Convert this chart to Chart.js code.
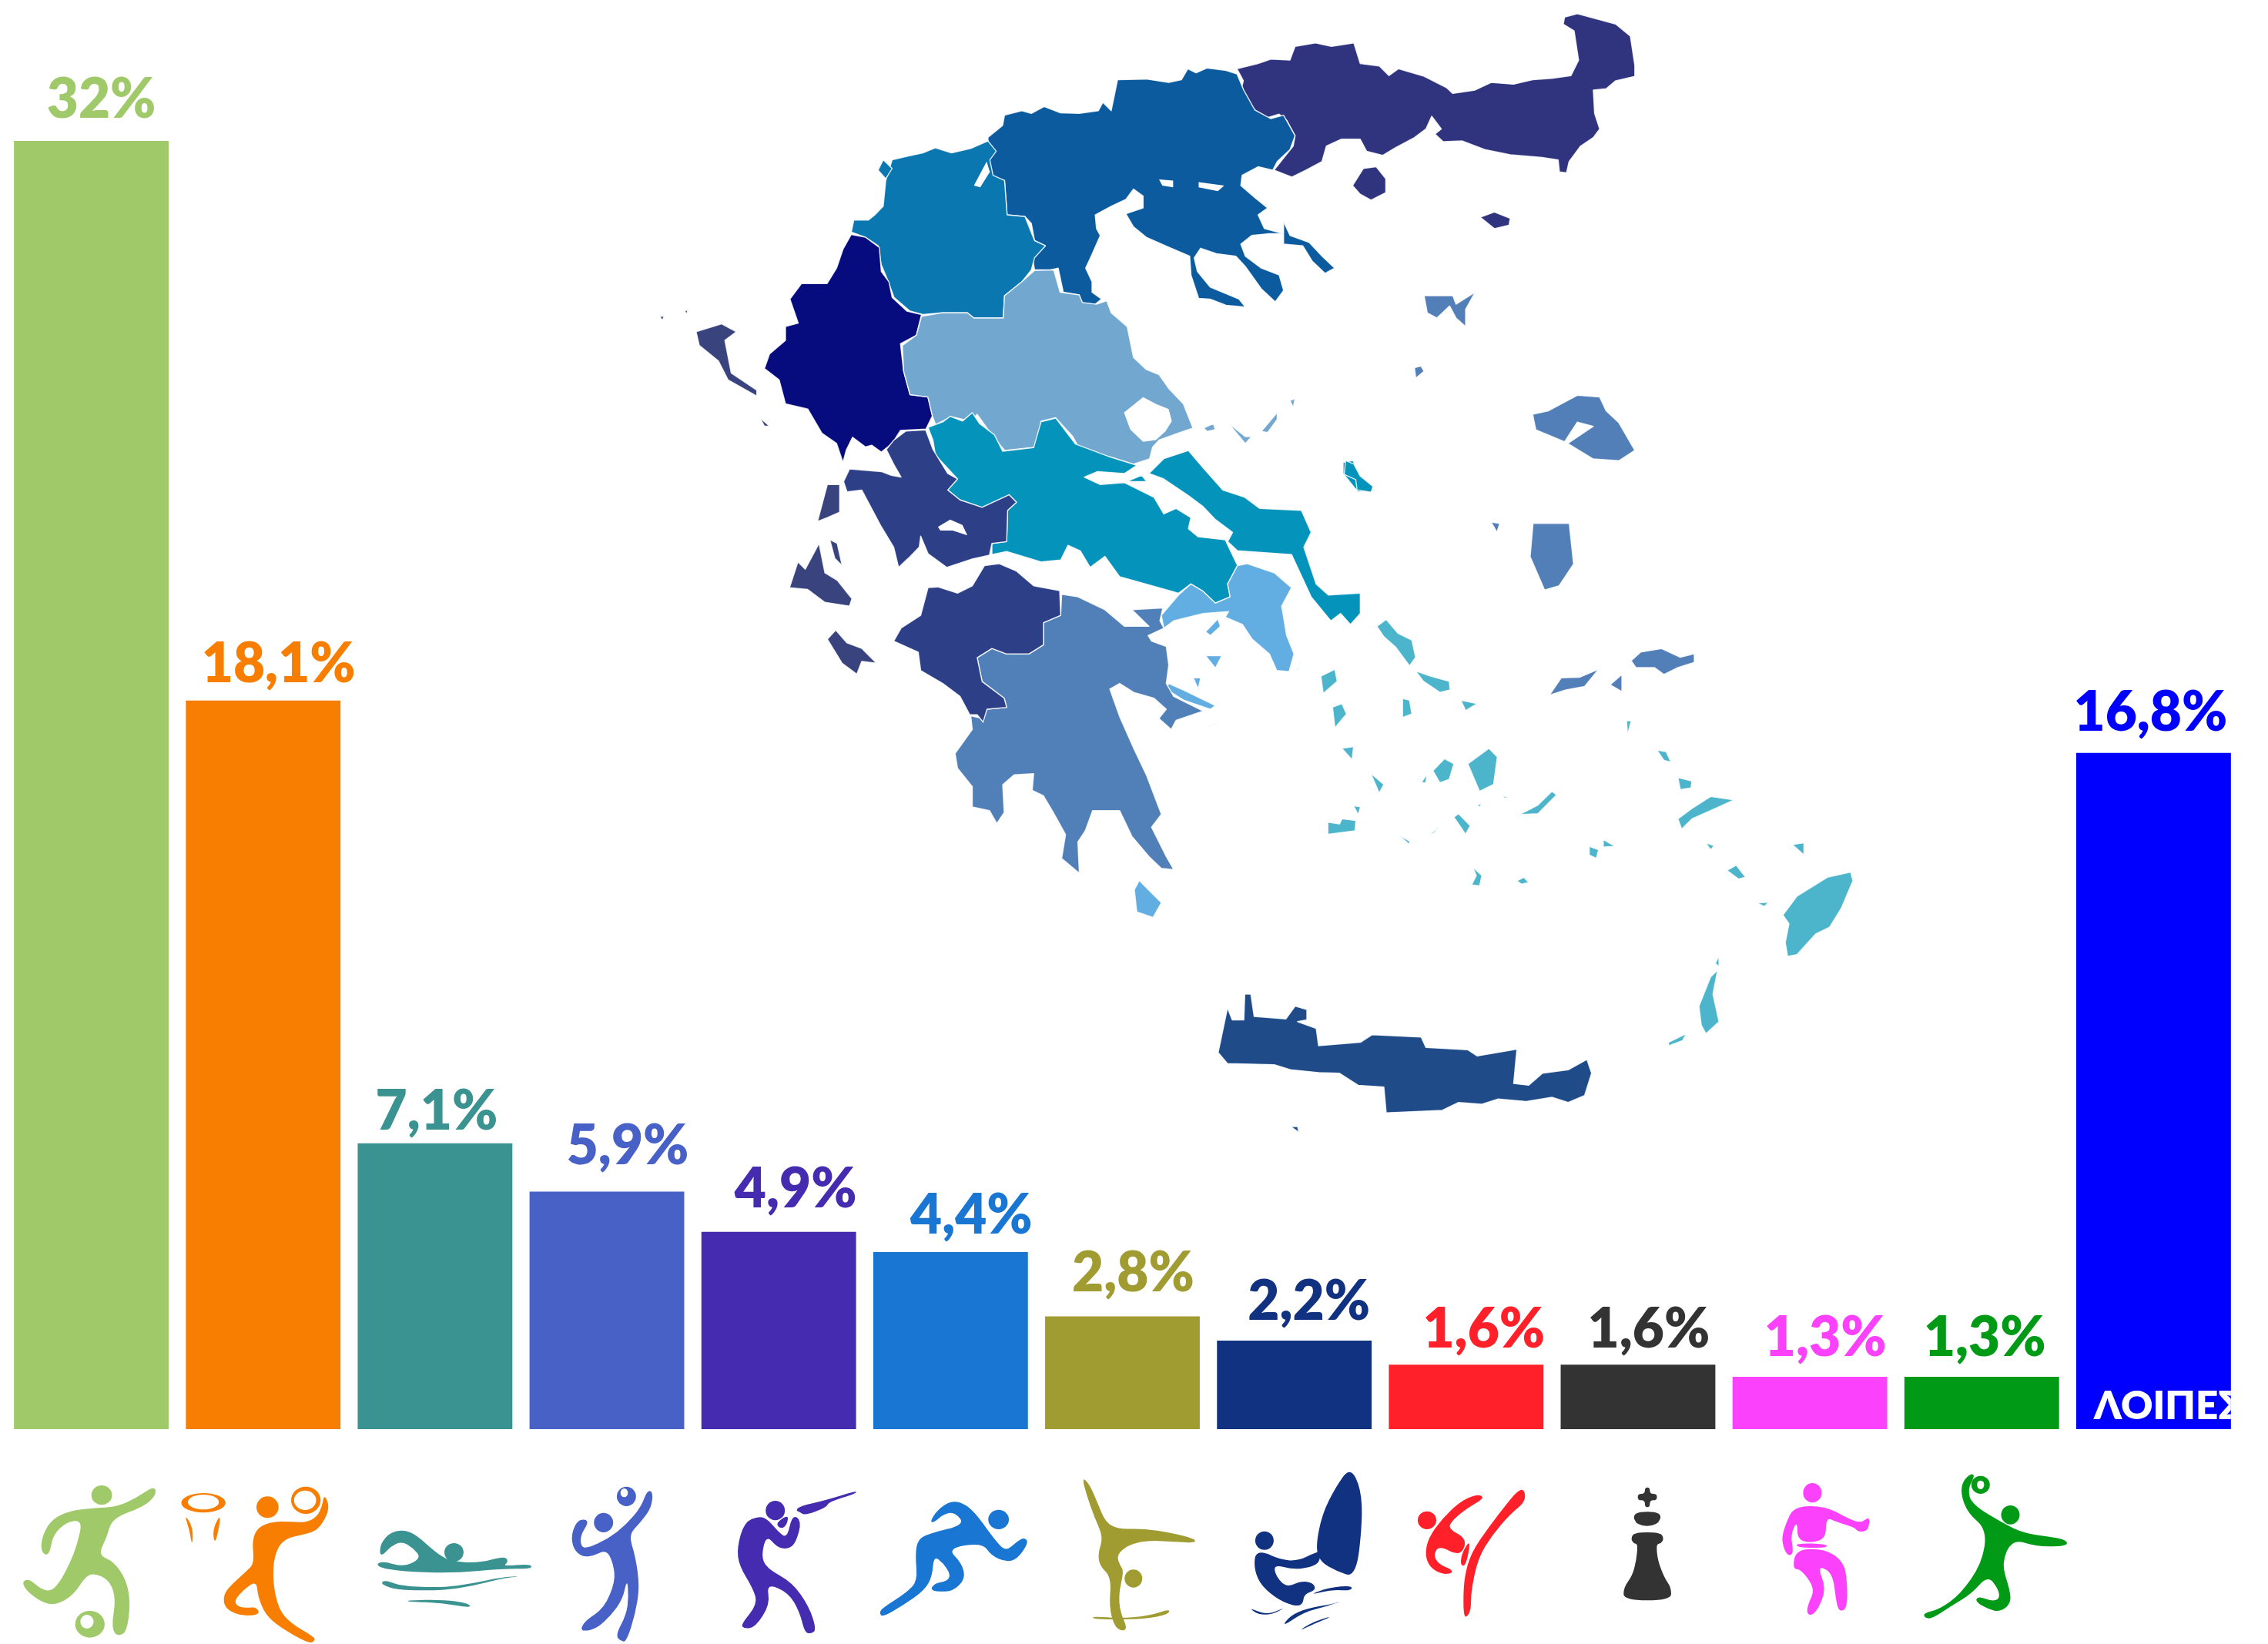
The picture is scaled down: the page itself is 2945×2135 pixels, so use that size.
<!DOCTYPE html>
<html><head><meta charset="utf-8">
<style>html,body{margin:0;padding:0;background:#fff}canvas{display:block}</style>
<script src="https://cdn.jsdelivr.net/npm/chart.js@4"></script></head>
<body><canvas id="c" width="2945" height="2135"></canvas>
<script>
const categories=["Ποδόσφαιρο","Μπάσκετ","Κολύμβηση","Βόλεϊ","Σκοποβολή","Στίβος","Ενόργανη","Ιστιοπλοΐα","Τάε Κβον Ντο","Σκάκι","Χορός","Χάντμπολ","ΛΟΙΠΕΣ"];
const shares=[32,18.1,7.1,5.9,4.9,4.4,2.8,2.2,1.6,1.6,1.3,1.3,16.8];
const barColors=["#A0CA6A","#F77E00","#3A9390","#4861C7","#452BB0","#1A76D3","#A09C32","#113280","#FF2029","#333333","#FB41FB","#009A16","#0000FF"];
const labelDx=[13,20,2,27,22,27,14,19,23,14,20,4,-4];
const labelGap=[30,24,18,36,32,24,33,27,22,22,27,27,29];

const tf={
 a:(x,y)=>[850+x/1.206,y/2.24],
 b:(x,y)=>[950+x/1.568,500+y/2.09],
 c:(x,y)=>[1500+x/1.65,800+y/2.24],
 o:(x,y)=>[x*1.878,y*1.878],
 i:(x,y)=>[x/1.045,1700+y/3],
 j:(x,y)=>[1500+x/1.0851,1700+y/3]
};
const mapParts=[
["#30347F","a",["912,200 945,185 965,172 995,175 1003,135 1035,125 1060,135 1095,125 1105,185 1135,192 1150,220 1165,200 1205,222 1240,255 1250,272 1285,262 1310,240 1345,245 1375,232 1405,228 1435,220 1447,175 1440,90 1423,70 1425,50 1445,40 1475,55 1505,70 1528,105 1535,190 1535,222 1505,235 1490,258 1470,262 1472,330 1480,375 1470,400 1450,425 1432,470 1428,503 1417,500 1415,465 1390,458 1340,450 1300,435 1265,410 1235,412 1222,390 1232,375 1217,338 1208,375 1190,400 1160,430 1140,452 1115,440 1105,405 1075,405 1052,425 1045,470 1020,495 998,515 970,495 985,460 1000,425 1003,395 990,350 978,332 960,342 940,320 925,285 920,250 922,235",
"1093,540 1110,490 1130,485 1145,520 1145,560 1122,582 1105,565","1293,632 1315,617 1340,635 1338,655 1315,665"]],
["#0C5B9E","a",["522,400 545,365 548,335 575,322 590,330 610,310 635,328 665,330 695,322 702,298 715,322 725,232 770,230 805,240 825,232 835,200 848,212 865,198 895,205 912,215 922,260 940,320 965,345 985,335 1003,395 995,435 975,470 968,495 945,485 920,510 918,540 940,575 960,605 945,625 955,665 985,680 985,645 995,685 1025,705 1045,745 1065,780 1050,795 1030,760 1015,715 985,710 985,680 960,680 935,685 918,710 925,745 950,780 978,800 985,845 972,878 950,840 925,775 910,745 880,738 855,722 845,750 850,790 870,835 915,870 925,893 895,888 870,870 852,868 840,800 838,745 800,715 770,690 750,660 738,622 765,605 765,570 750,550 738,580 715,600 690,625 692,665 698,685 685,740 675,780 685,820 685,850 700,870 690,885 668,880 665,858 640,850 632,780 620,785 595,785 592,750 612,715 595,700 590,650 580,630 552,625 548,525 525,510"]],
["#0A77B1","a",["308,675 312,640 335,640 345,625 358,600 362,525 372,465 395,455 420,445 440,430 465,445 495,432 522,410 535,440 525,465 530,510 548,525 552,625 580,630 595,700 612,715 595,750 590,785 575,820 548,860 546,925 500,925 490,910 450,910 420,915 400,905 375,865 365,815 355,770 350,715 330,690",
"358,465 372,490 362,520 350,495"]],
["#060C7E","a",["308,682 330,690 352,720 355,790 367,820 372,865 395,905 418,915 410,975 385,1000 390,1080 400,1148 428,1155 435,1210 425,1248 385,1252 372,1290 355,1315 340,1295 330,1300 310,1272 300,1310 295,1345 285,1290 262,1260 240,1190 205,1175 195,1105 172,1072 180,1030 205,990 205,950 225,940 212,870 230,825 270,825 285,780 295,725"]],
["#72A7D0","a",["418,920 450,910 490,910 500,925 546,925 548,860 575,820 595,787 625,785 635,850 665,858 670,880 692,885 708,875 715,910 740,950 750,1040 770,1075 790,1090 805,1130 828,1175 843,1245 820,1260 790,1280 780,1300 775,1335 750,1350 715,1330 665,1305 655,1270 628,1215 605,1225 600,1300 548,1310 530,1270 505,1205 495,1225 465,1212 440,1235 435,1210 428,1155 400,1148 390,1080 388,1005 410,975",
"860,1245 875,1232 878,1250 865,1255","898,1230 925,1270 935,1270 925,1290","950,1255 975,1200 975,1220 960,1258","995,1165 1003,1160 1000,1185"]],
["#FFFFFF","a",["735,1200 765,1155 785,1175 805,1190 810,1225 800,1255 785,1280 765,1285 745,1250","520,470 525,500 510,545 500,540","790,522 812,525 812,545 795,540","852,530 892,540 882,556 852,545"]],
["#0393BB","b",["400,115 430,100 445,85 470,98 490,75 505,105 535,135 552,180 615,170 630,100 660,90 700,160 770,195 825,218 800,240 745,235 718,250 750,270 800,265 860,305 880,350 905,335 935,360 930,390 950,412 1005,420 1030,490 1010,540 1015,575 985,592 960,560 935,540 910,565 870,550 790,520 760,465 730,495 710,450 685,435 670,475 630,480 560,452 530,460 530,430 560,425 562,340 580,318 565,298 510,332 465,312 440,285 460,255 415,190 410,150",
"850,240 880,200 930,178 960,225 1000,285 1045,305 1075,335 1160,340 1180,400 1165,440 1190,540 1215,570 1280,565 1280,620 1260,650 1240,620 1220,640 1180,575 1140,460 1030,450 1010,425 1020,400 985,365 960,330 930,300 880,255",
"805,262 835,245 845,262","1245,210 1265,205 1285,265 1305,285 1275,290 1245,240"]],
["#62ADE2","b",["875,625 910,570 935,540 960,560 985,592 1015,575 1010,540 1030,490 1050,485 1105,510 1140,550 1120,600 1130,680 1145,730 1135,778 1110,775 1095,730 1060,690 1040,650 1005,630 1012,615 960,620 900,640 880,660",
"965,670 990,635 995,655 975,680","965,735 998,735 985,768","940,795 955,795 950,825","890,810 915,825 985,870 975,880 920,855 885,825","830,1345 875,1405 858,1445 825,1430 820,1370","955,935 1000,910 975,925","1150,775 1160,745 1152,775"]],
["#5180B8","b",["672,568 705,575 760,610 800,655 850,655 815,610 878,605 872,640 880,660 848,680 855,695 885,710 890,760 885,810 900,845 960,885 905,910 895,935 870,905 885,880 860,850 820,835 790,810 770,825 790,900 820,990 845,1060 875,1165 855,1200 885,1280 900,1315 875,1312 850,1280 815,1225 790,1155 735,1155 720,1210 705,1240 708,1325 672,1285 680,1220 655,1160 635,1115 612,1100 615,1055 575,1058 552,1085 555,1160 540,1190 525,1155 490,1145 490,1090 460,1040 455,1000 490,935 487,898 510,905 520,880 560,875 555,850 510,805 500,740 530,715 560,730 605,730 635,705 635,645 670,625"]],
["#2D3F87","b",["515,490 545,485 580,505 615,545 668,558 670,625 635,645 635,705 605,730 560,730 530,715 500,740 510,805 555,850 560,875 520,880 512,915 500,895 485,895 465,845 430,810 385,775 380,725 330,695 345,660 385,625 400,550 420,548 460,565 490,545",
"330,150 355,125 395,122 410,175 440,240 460,255 440,285 465,312 510,332 565,298 580,318 562,340 560,425 530,430 525,462 490,472 438,495 400,458 385,410 382,440 360,470 340,495 330,440 305,385 265,285 235,290 228,262 240,228 305,235 325,245 345,250 330,215 315,175"]],
["#FFFFFF","b",["420,385 445,365 470,380 480,408 450,395 425,395"]],
["#39447E","a",["65,965 105,942 128,965 110,990 120,1085 160,1135 160,1152 115,1105 100,1050 70,1005","165,1215 180,1240 172,1240","8,920 15,920 12,932","47,903 52,903 50,914"]],
["#39447E","b",["175,370 195,270 220,270 220,345 195,360","118,550 135,480 150,500 178,430 190,510 215,530 245,580 240,600 190,590 155,555","200,420 215,430 225,490 210,470","195,690 212,665 235,700 265,715 295,755 265,750 255,785 225,755"]],
["#527FB8","a",["1205,860 1250,860 1255,885 1285,850 1270,900 1270,950 1255,925 1245,890 1225,925 1210,910","1190,1070 1200,1065 1205,1080 1192,1100","1375,1205 1400,1195 1445,1150 1480,1155 1490,1195 1510,1230 1535,1310 1510,1340 1470,1335 1430,1290 1470,1240 1445,1228 1425,1285 1380,1250"]],
["#0393BB","a",["1082,1340 1095,1350 1105,1385 1125,1415 1122,1432 1100,1425 1098,1395 1080,1380"]],
["#527FB8","o",["1060,362 1085,362 1088,390 1078,405 1068,408 1058,385","1031,361 1037,362 1035,368"]],
["#527FB8","c",["1020,130 1040,105 1085,95 1125,120 1155,110 1155,135 1120,150 1090,170 1070,150 1030,150","845,230 870,180 910,178 950,155 920,205 880,215","975,200 1000,170 1000,220"]],
["#4CB5CC","c",["475,30 495,10 520,50 550,70 558,120 545,145 515,90 490,60","558,160 590,175 630,190 632,215 610,222 575,190","355,175 385,155 390,190 360,225","380,265 400,255 410,285 385,325","530,240 545,245 550,285 530,295","655,245 690,255 665,275","400,385 425,380 422,418","462,458 490,490 480,515","595,450 620,415 640,430 630,475 610,485","670,430 715,385 733,410 725,490 695,510","570,485 582,460 580,485","780,578 820,550 850,510 860,520 820,575","640,585 650,575 675,610 665,635","585,640 610,610 598,630","520,635 545,655 545,665","370,600 395,605 400,590 430,595 428,625 370,635","425,552 440,555 435,578","680,730 700,755 695,785 678,782 688,755","775,770 790,760 800,775 785,780","1120,470 1150,480 1148,500 1125,505","1120,590 1150,560 1190,525 1240,535 1200,560 1150,590 1128,620","930,670 950,680 945,705 930,695","960,650 985,670 960,672","1180,660 1198,668 1190,680","1365,665 1390,660 1390,695","1345,870 1375,815 1440,760 1490,745 1495,770 1470,850 1445,905 1415,925 1375,985 1355,990 1350,950 1358,895","1165,1135 1190,1050 1205,1030 1195,1100 1208,1180 1180,1215 1170,1190","1100,1240 1138,1215 1130,1235 1100,1250","1200,1010 1208,990 1208,1020","1010,305 1020,305 1012,345","1075,390 1095,395 1105,425 1090,420","1225,740 1245,725 1265,760 1250,765","1290,835 1315,832 1305,845","690,550 700,545 695,556","745,522 755,528 748,530"]],
["#1F4B88","c",["135,1270 155,1140 165,1175 190,1175 192,1100 205,1100 212,1165 280,1172 300,1135 325,1145 325,1175 305,1180 345,1200 350,1250 440,1240 465,1218 570,1225 580,1255 670,1262 690,1280 775,1260 768,1360 800,1365 830,1330 885,1320 925,1290 935,1330 920,1395 885,1415 850,1400 795,1412 735,1405 700,1420 650,1415 615,1438 495,1445 490,1370 435,1365 395,1330 350,1328 290,1320 255,1305 155,1302","290,1485 305,1485 308,1502"]]
];
const icons=[
[0,"i",["210,688 212,725 195,770 152,815 145,890 133,958 155,985 172,1060 177,1150 172,1255 163,1272 155,1265 152,1225 157,1130 150,1065 135,1035 118,1032 100,1115 75,1155 55,1140 35,1095 30,1060 40,1052 55,1090 68,1100 80,1070 95,990 105,915 112,822 90,830 72,880 68,945 62,962 55,935 58,880 70,820 95,785 130,775 160,770 185,735"],[[138,725,14,38],[122,1228,20,52]],[[118,1218,9,27]]],
[1,"i",["250,798 262,850 261,928 257,860","301,790 292,925 288,860","440,720 448,775 435,850 420,875 385,893 372,960 370,1060 378,1170 395,1225 425,1275 428,1290 420,1305 380,1240 360,1190 350,1120 348,1058 330,1095 318,1135 322,1158 335,1165 348,1160 353,1192 325,1195 305,1165 303,1120 310,1085 335,1020 345,990 342,900 350,850 370,828 395,828 415,832 430,810 437,770"],[[276,755,30,38],[415,745,20,53],[363,772,15,42]],[[276,752,21,29],[414,745,15,38]]],
[2,"i",["510,995 520,982 548,1005 572,970 560,930 545,905 530,925 520,958 515,955 517,910 530,870 548,860 565,880 590,945 610,983 650,990 685,962 690,985 682,1002 720,993 722,1012 680,1012 620,1028 560,1025 520,1012","516,1072 522,1055 545,1080 600,1085 640,1070 680,1045 710,1040 680,1050 640,1080 600,1097 540,1095","552,1135 600,1132 635,1145 640,1165 600,1145 555,1140"],[[616,948,13,36]],[]],
[3,"i",["878,707 886,710 884,775 868,835 853,880 862,960 868,1080 862,1190 850,1295 843,1295 835,1272 850,1190 853,1120 851,1050 845,1130 830,1190 810,1245 792,1255 788,1245 795,1212 820,1165 835,1060 832,990 823,937 805,962 790,965 778,935 775,880 783,825 795,818 798,835 788,880 788,925 797,932 825,895 850,840 870,770"],[[850,730,13,38],[819,832,13,38]],[[847,716,5,17]]],
[4,"i",["1162,708 1162,718 1124,752 1122,772 1092,805 1085,790 1080,785 1085,768 1120,745","1030,806 1042,820 1055,865 1068,895 1075,800 1088,825 1080,910 1070,935 1055,930 1040,880 1033,960 1040,1010 1075,1065 1098,1160 1108,1250 1100,1265 1092,1260 1085,1180 1070,1105 1040,1068 1045,1150 1025,1240 1010,1245 1005,1230 1028,1150 1022,1090 1003,1000 1000,930 1010,830","1052,835 1070,800 1068,840 1060,858"],[[1052,785,13,38]],[]],
[5,"i",["1262,830 1270,790 1285,755 1300,748 1320,780 1350,900 1365,945 1380,905 1390,890 1396,910 1380,975 1365,985 1345,960 1333,910 1285,932 1305,990 1310,1050 1295,1095 1280,1102 1262,1097 1268,1068 1285,1060 1290,1035 1280,990 1267,962 1265,1040 1255,1095 1225,1155 1197,1202 1193,1180 1200,1160 1230,1105 1245,1060 1242,960 1245,900 1260,875 1310,840 1295,790 1280,800 1268,830"],[[1355,820,14,38]],[]],
[6,"i",["1468,655 1478,680 1490,760 1500,830 1517,858 1550,855 1590,872 1623,897 1620,912 1590,905 1555,902 1530,920 1515,960 1520,1000 1525,1020 1518,1110 1520,1180 1530,1245 1522,1255 1512,1235 1505,1160 1508,1045 1492,1000 1490,950 1497,890 1485,810 1475,730","1482,1197 1520,1205 1560,1195 1588,1168 1585,1190 1555,1207 1510,1210 1484,1207"],[[1538,1050,12,35]],[]],
[7,"j",["275,615 290,700 292,830 283,1047 255,1020 233,985 226,930 235,800 255,690","140,955 152,945 175,975 200,982 225,950 232,945 232,985 220,1005 195,1015 167,995 170,1040 185,1085 205,1060 222,1065 227,1095 210,1110 208,1150 198,1158 175,1135 150,1080 140,1020","215,1115 245,1085 278,1077 276,1098 250,1093","132,1163 150,1185 165,1185 185,1160 165,1190 145,1190","178,1240 190,1195 215,1165 250,1150 265,1135 240,1160 210,1180","200,1257 225,1215 252,1195 225,1225"],[[154,902,13,36]],[]],
[8,"j",["520,700 522,750 500,800 475,880 455,970 445,1100 445,1175 437,1207 434,1170 435,1050 445,950 470,850 495,760 510,710","460,725 462,740 440,775 420,820 412,855 440,895 430,965 400,920 392,960 400,995 418,1015 418,1030 405,1033 388,1010 380,960 385,890 405,815 430,750 450,725","445,895 438,1000 430,1000 432,950"],[[383,823,13,35]],[]],
[9,"j",["690,695 697,695 697,720 707,720 707,745 697,745 697,772 690,772 690,745 680,745 680,720 690,720","672,790 715,790 708,845 678,845","675,870 712,870 717,895 712,915 706,915 708,980 718,1050 727,1085 727,1135 660,1135 660,1085 672,1040 678,980 680,915 675,915 670,895"],[],[]],
[10,"j",["900,768 945,768 975,815 995,835 1007,805 1005,865 990,868 985,850 960,830 945,810 945,905 905,910 905,822 895,880 900,955 890,962 882,900 888,840","903,912 945,915 948,930 905,930","903,935 945,935 970,985 975,1060 975,1165 965,1180 960,1150 955,1035 940,1005 935,1015 945,1090 935,1165 925,1195 918,1185 920,1150 930,1090 910,1013 898,1013"],[[926,716,13,38]],[]],
[11,"j",["1150,640 1155,650 1145,700 1150,760 1195,835 1225,875 1275,892 1287,910 1280,925 1240,925 1208,895 1192,990 1205,1100 1205,1150 1190,1180 1175,1170 1155,1140 1160,1118 1178,1138 1190,1130 1188,1090 1173,1038 1150,1110 1120,1160 1095,1205 1085,1205 1082,1185 1105,1170 1135,1110 1165,990 1172,860 1145,795 1135,720 1138,670"],[[1163,685,13,35],[1205,802,13,37]],[[1163,685,5,17]]]
];
const pts=(s,t)=>s.split(" ").map(p=>{const a=p.split(",").map(Number);return tf[t](a[0],a[1]);});
function straight(ctx,P){ctx.beginPath();P.forEach((p,i)=>i?ctx.lineTo(p[0],p[1]):ctx.moveTo(p[0],p[1]));ctx.closePath();}
function smooth(ctx,P){ctx.beginPath();const n=P.length;const m=(a,b)=>[(a[0]+b[0])/2,(a[1]+b[1])/2];
 let s=m(P[n-1],P[0]);ctx.moveTo(s[0],s[1]);
 for(let i=0;i<n;i++){const q=m(P[i],P[(i+1)%n]);ctx.quadraticCurveTo(P[i][0],P[i][1],q[0],q[1]);}ctx.closePath();}
function ell(ctx,e,t,col){const a=tf[t](e[0],e[1]),b=tf[t](e[0]+e[2],e[1]+e[3]);ctx.fillStyle=col;ctx.beginPath();ctx.ellipse(a[0],a[1],Math.abs(b[0]-a[0]),Math.abs(b[1]-a[1]),0,0,7);ctx.fill();}

const artwork={id:"artwork",afterDatasetsDraw(chart){
 const ctx=chart.ctx,y=chart.scales.y,x=chart.scales.x;ctx.save();
 ctx.lineJoin="round";
 mapParts.forEach(r=>{r[2].forEach(s=>{straight(ctx,pts(s,r[1]));ctx.fillStyle=r[0];ctx.fill();
   if(r[0]!=="#FFFFFF"){ctx.strokeStyle="rgba(255,255,255,.85)";ctx.lineWidth=1.4;ctx.stroke();}});});
 icons.forEach(ic=>{const col=barColors[ic[0]],t=ic[1];ctx.fillStyle=col;
   ic[2].forEach(s=>{smooth(ctx,pts(s,t));ctx.fillStyle=col;ctx.fill();});
   ic[3].forEach(e=>ell(ctx,e,t,col));ic[4].forEach(e=>ell(ctx,e,t,"#fff"));});
 ctx.textAlign="center";ctx.textBaseline="alphabetic";ctx.font="800 71px Lato";
 shares.forEach((v,i)=>{ctx.fillStyle=barColors[i];
   ctx.fillText(String(v).replace(".",",")+"%",x.getPixelForValue(i)+labelDx[i],y.getPixelForValue(v)-labelGap[i]);});
 const bar=chart.getDatasetMeta(0).data[12];
 ctx.save();ctx.beginPath();ctx.rect(bar.x-bar.width/2,y.getPixelForValue(16.8),bar.width,y.getPixelForValue(0)-y.getPixelForValue(16.8));ctx.clip();
 ctx.fillStyle="#fff";ctx.textAlign="left";ctx.font="800 51px Lato";ctx.letterSpacing="0px";
 ctx.fillText(categories[12],2719,1843);ctx.restore();
 ctx.restore();
}};
new Chart(document.getElementById("c"),{type:"bar",
 data:{labels:categories,datasets:[{data:shares,backgroundColor:barColors,borderWidth:0,categoryPercentage:1,barPercentage:0.9}]},
 options:{responsive:false,animation:false,devicePixelRatio:1,
  layout:{padding:{left:7,right:37,top:0,bottom:279}},
  plugins:{legend:{display:false},tooltip:{enabled:false},title:{display:false}},
  scales:{x:{display:false,offset:true},y:{display:false,min:0,max:35.5}}},
 plugins:[artwork]});
</script></body></html>
